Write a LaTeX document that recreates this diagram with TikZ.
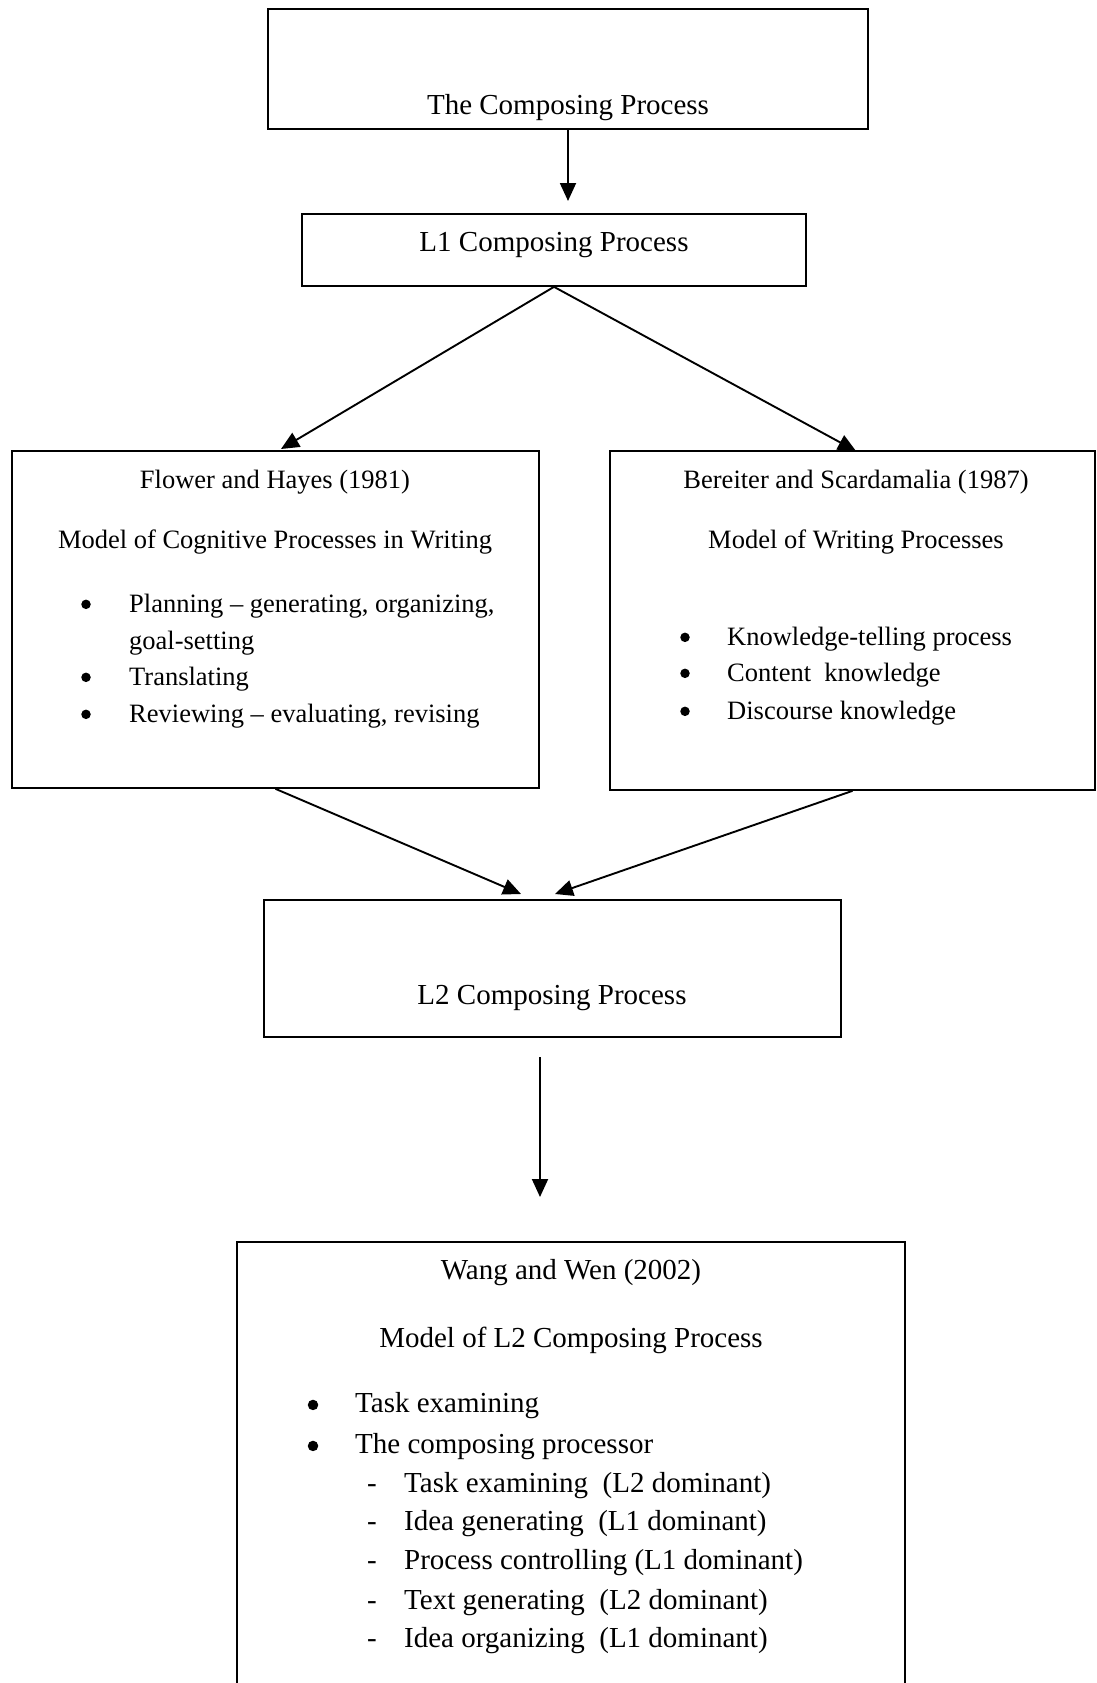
\documentclass[tikz,border=0pt]{standalone}
\usepackage{fontspec}
\setmainfont{Liberation Serif}
\usetikzlibrary{arrows.meta}
\tikzset{
  box/.style={draw, rectangle, line width=1.7pt, inner sep=0pt},
  bigtxt/.style={inner sep=0pt, font=\fontsize{29}{35}\selectfont},
  smalltxt/.style={inner sep=0pt, font=\fontsize{26.5}{32}\selectfont},
  dot/.style={circle, fill, inner sep=0pt, minimum size=9.5pt, yshift=8pt},
  flow/.style={line width=1.9pt, -{Triangle[length=18pt,width=16pt]}},
}

\begin{document}
\begin{tikzpicture}[x=1pt,y=1pt,yscale=-1,xscale=1]
\useasboundingbox (0,0) rectangle (1096,1683);

%Columns of bullets and dashes
\coordinate (fcol) at (86,0);
\coordinate (bcol) at (685,0);
\coordinate (wcol) at (313,0);
\coordinate (dcol) at (372,0);

%Shape: Rectangle [top]
\node [box, minimum width=600, minimum height=120] (composing) at (568,69) {};
\node [bigtxt] (composingtxt) at (568,108) {The Composing Process};
%Shape: Rectangle [L1]
\node [box, minimum width=504, minimum height=72] (lone) at (554,250) {};
\node [bigtxt] (lonetxt) at (554,245) {L1 Composing Process};

%Shape: Rectangle [Flower and Hayes]
\node [box, minimum width=527, minimum height=337] (flower) at (275.5,619.5) {};
\node [smalltxt] (flowertitle) at (275,482) {Flower and Hayes (1981)};
\node [smalltxt] (flowermodel) at (275,542) {Model of Cognitive Processes in Writing};
\node [smalltxt, anchor=west] (fitemA) at (129,606) {Planning – generating, organizing,};
\node [smalltxt, anchor=west] (fitemAb) at (129,643) {goal-setting};
\node [smalltxt, anchor=west] (fitemB) at (129,679) {Translating};
\node [smalltxt, anchor=west] (fitemC) at (129,716) {Reviewing – evaluating, revising};
\node [dot] (fbulA) at (fitemA.base -| fcol) {};
\node [dot] (fbulB) at (fitemB.base -| fcol) {};
\node [dot] (fbulC) at (fitemC.base -| fcol) {};

%Shape: Rectangle [Bereiter and Scardamalia]
\node [box, minimum width=485, minimum height=339] (bereiter) at (852.5,620.5) {};
\node [smalltxt] (bereitertitle) at (856,482) {Bereiter and Scardamalia (1987)};
\node [smalltxt] (bereitermodel) at (856,542) {Model of Writing Processes};
\node [smalltxt, anchor=west] (bitemA) at (727,639) {Knowledge-telling process};
\node [smalltxt, anchor=west] (bitemB) at (727,675) {Content\ \ knowledge};
\node [smalltxt, anchor=west] (bitemC) at (727,713) {Discourse knowledge};
\node [dot] (bbulA) at (bitemA.base -| bcol) {};
\node [dot] (bbulB) at (bitemB.base -| bcol) {};
\node [dot] (bbulC) at (bitemC.base -| bcol) {};

%Shape: Rectangle [L2]
\node [box, minimum width=577, minimum height=137] (ltwo) at (552.5,968.5) {};
\node [bigtxt] (ltwotxt) at (552,998) {L2 Composing Process};

%Shape: Rectangle [Wang and Wen]
\node [box, minimum width=668, minimum height=458] (wang) at (571,1471) {};
\node [bigtxt] (wangtitle) at (571,1273) {Wang and Wen (2002)};
\node [bigtxt] (wangmodel) at (571,1340) {Model of L2 Composing Process};
\node [bigtxt, anchor=west] (witemA) at (355,1406) {Task examining};
\node [bigtxt, anchor=west] (witemB) at (355,1447) {The composing processor};
\node [bigtxt, anchor=west] (wsubA) at (404,1486) {Task examining\ \ (L2 dominant)};
\node [bigtxt, anchor=west] (wsubB) at (404,1524) {Idea generating\ \ (L1 dominant)};
\node [bigtxt, anchor=west] (wsubC) at (404,1563) {Process controlling (L1 dominant)};
\node [bigtxt, anchor=west] (wsubD) at (404,1603) {Text generating\ \ (L2 dominant)};
\node [bigtxt, anchor=west] (wsubE) at (404,1641) {Idea organizing\ \ (L1 dominant)};
\node [dot, minimum size=10.5pt] (wbulA) at (witemA.base -| wcol) {};
\node [dot, minimum size=10.5pt] (wbulB) at (witemB.base -| wcol) {};
\node [bigtxt, anchor=base] (wdashA) at (wsubA.base -| dcol) {-};
\node [bigtxt, anchor=base] (wdashB) at (wsubB.base -| dcol) {-};
\node [bigtxt, anchor=base] (wdashC) at (wsubC.base -| dcol) {-};
\node [bigtxt, anchor=base] (wdashD) at (wsubD.base -| dcol) {-};
\node [bigtxt, anchor=base] (wdashE) at (wsubE.base -| dcol) {-};

%Arrow ends
\coordinate (lonein) at (568,201);
\coordinate (flowerin) at (281,449);
\coordinate (bereiterin) at (856,451);
\coordinate (ltwoinA) at (521,894);
\coordinate (ltwoinB) at (555,894);
\coordinate (ltwoout) at (540,1057);
\coordinate (wangin) at (540,1197);

%Straight Lines
\draw [flow] (composing.south) -- (lonein);
\draw [flow] (lone.south) -- (flowerin);
\draw [flow] (lone.south) -- (bereiterin);
\draw [flow] (flower.south) -- (ltwoinA);
\draw [flow] (bereiter.south) -- (ltwoinB);
\draw [flow] (ltwoout) -- (wangin);

\end{tikzpicture}
\end{document}
